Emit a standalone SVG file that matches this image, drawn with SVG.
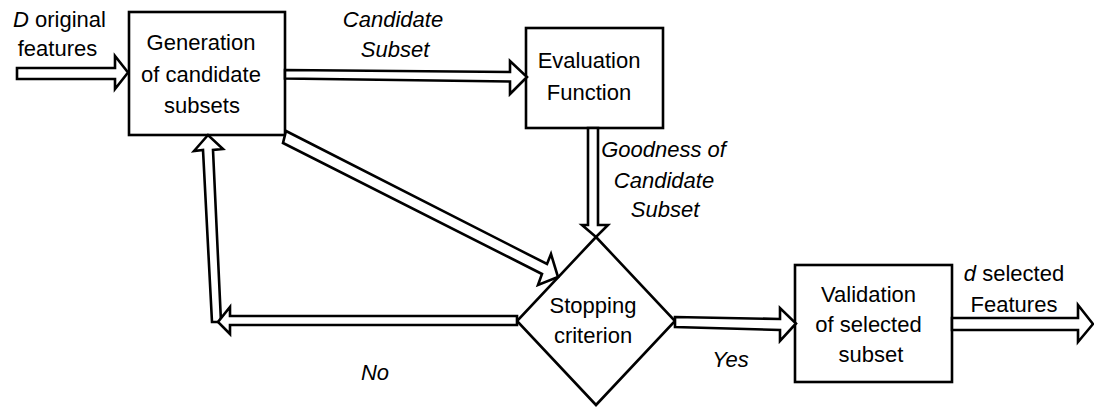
<svg xmlns="http://www.w3.org/2000/svg" width="1094" height="407" viewBox="0 0 1094 407">
<style>
.box{fill:#fff;stroke:#000;stroke-width:2.6}
.arr{fill:#fff;stroke:#000;stroke-width:2.6;stroke-linejoin:miter}
text{font-family:"Liberation Sans",Arial,sans-serif;font-size:22px;fill:#000;text-anchor:middle}
.it{font-style:italic}
</style>
<rect width="1094" height="407" fill="#fff"/>
<g id="nodes">
<g id="gen">
<rect class="box" x="129" y="12" width="156" height="123"/>
<text x="201" y="50">Generation</text>
<text x="201" y="82">of candidate</text>
<text x="202" y="113">subsets</text>
</g>
<g id="eval">
<rect class="box" x="526" y="28" width="137" height="100"/>
<text x="589" y="68">Evaluation</text>
<text x="589" y="100">Function</text>
</g>
<g id="stop">
<polygon class="box" points="596,237 675,321 596,405 517,321"/>
<text x="593" y="313">Stopping</text>
<text x="593" y="343">criterion</text>
</g>
<g id="valid">
<rect class="box" x="795" y="265" width="157" height="117"/>
<text x="868.5" y="302">Validation</text>
<text x="868.5" y="332">of selected</text>
<text x="871" y="362">subset</text>
</g>
</g>
<g id="connectors">
<polygon class="arr" points="17,68 115,68 115,56 128,72.5 115,89 115,79 17,79"/>
<polygon class="arr" points="285,70 510,72 510,61 527,77 510,94 510,81.5 285,78.5"/>
<polygon class="arr" points="588,128 588,225 582,225 596,237 608,225 598,225 598,128"/>
<polygon class="arr" points="286,131 547,264 551,254 558,277 538,285 542,274 283,143"/>
<polygon class="arr" points="212,322 203,150 194,151 208,135 223,149 213,150 221,322"/>
<polygon class="arr" points="517,316 230,316 230,307 218,322 230,334 230,325 517,325"/>
<polygon class="arr" points="675,317 780,319 780,308 796,323.5 780,341 780,330 675,327"/>
<polygon class="arr" points="952,318 1078,318 1078,305 1093,324 1078,342 1078,330 952,330"/>
</g>
<g id="labels">
<text x="59.5" y="27"><tspan class="it">D</tspan> original</text>
<text x="57.5" y="56">features</text>
<text class="it" x="393" y="27">Candidate</text>
<text class="it" x="395" y="57">Subset</text>
<text class="it" x="663.5" y="157">Goodness of</text>
<text class="it" x="664" y="188">Candidate</text>
<text class="it" x="665" y="217">Subset</text>
<text class="it" x="730.5" y="367">Yes</text>
<text class="it" x="375" y="380">No</text>
<text x="1014" y="281"><tspan class="it">d</tspan> selected</text>
<text x="1014" y="312">Features</text>
</g>
</svg>
